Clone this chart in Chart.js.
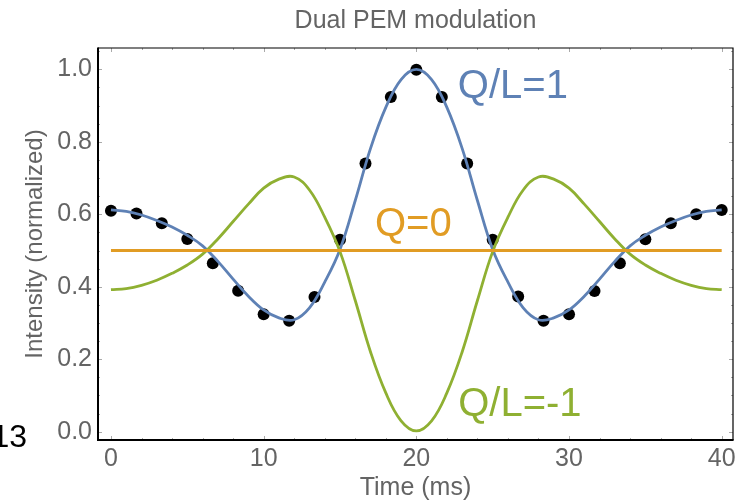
<!DOCTYPE html>
<html>
<head>
<meta charset="utf-8">
<script src="https://cdn.jsdelivr.net/npm/chart.js@4"></script>
<style>
  body { margin: 0; background: #fff; }
  canvas { display: block; }
</style>
</head>
<body>
<canvas id="chart" width="740" height="504"></canvas>
<script>
// curve samples (time in ms)
let curveTimes = [0,1,2,3,4,5,6,7,8,9,10,11,12,13,14,15,16,17,18,19,20,
  21,22,23,24,25,26,27,28,29,30,31,32,33,34,35,36,37,38,39,40];
let qlPlus = [0.612,0.608,0.598,0.583,0.565,0.542,0.513,0.470,0.421,0.374,0.336,0.314,0.309,0.342,0.413,0.503,0.638,0.782,0.895,0.972,1.000,
  0.972,0.895,0.782,0.638,0.503,0.413,0.342,0.309,0.314,0.336,0.374,0.421,0.470,0.513,0.542,0.565,0.583,0.598,0.608,0.612];
let qlMinus = [0.392,0.395,0.404,0.418,0.437,0.460,0.490,0.532,0.580,0.628,0.672,0.697,0.703,0.667,0.592,0.497,0.362,0.220,0.107,0.030,0.002,
  0.030,0.107,0.220,0.362,0.497,0.592,0.667,0.703,0.697,0.672,0.628,0.580,0.532,0.490,0.460,0.437,0.418,0.404,0.395,0.392];
let qZeroTimes = [0, 40];
let qZero = [0.5, 0.5];

// measured points
let dotTimes = [0,1.67,3.33,5,6.67,8.33,10,11.67,13.33,15,16.67,18.33,20,
  21.67,23.33,25,26.67,28.33,30,31.67,33.33,35,36.67,38.33,40];
let dotValues = [0.610,0.602,0.575,0.532,0.465,0.389,0.324,0.306,0.372,0.530,0.740,0.924,0.999,
  0.924,0.740,0.530,0.373,0.306,0.324,0.388,0.465,0.531,0.575,0.600,0.612];

let xTicks = [0, 10, 20, 30, 40];
let yTicks = [0, 0.2, 0.4, 0.6, 0.8, 1.0];

let curveLabels = ["Q/L=1", "Q=0", "Q/L=-1"];
let labelX = [22.72, 17.29, 22.74];
let labelY = [0.951, 0.570, 0.075];

const BLUE = "#5e81b5";
const ORANGE = "#e19c24";
const GREEN = "#8fb032";
const GRAY = "#646464";
const FONT = "'Liberation Sans', Arial, Helvetica, sans-serif";

function toPoints(xs, ys) {
  return xs.map((x, i) => ({ x: x, y: ys[i] }));
}

// frame, inward ticks, title and curve labels
const framePlugin = {
  id: "frame",
  afterDraw(chart) {
    let ctx = chart.ctx;
    let a = chart.chartArea;
    let xs = chart.scales.x;
    let ys = chart.scales.y;
    ctx.save();

    ctx.strokeStyle = "#aaa";
    ctx.lineWidth = 1;
    ctx.beginPath();
    for (let v = 0; v <= 40; v += 2) {
      let px = Math.round(xs.getPixelForValue(v)) + 0.5;
      let len = v % 10 === 0 ? 4 : 2;
      ctx.moveTo(px, a.bottom); ctx.lineTo(px, a.bottom - len);
      ctx.moveTo(px, a.top); ctx.lineTo(px, a.top + len);
    }
    for (let k = 0; k <= 21; k++) {
      let v = k * 0.05;
      let py = Math.round(ys.getPixelForValue(v)) + 0.5;
      let len = k % 4 === 0 ? 4 : 2;
      ctx.moveTo(a.left, py); ctx.lineTo(a.left + len, py);
      ctx.moveTo(a.right, py); ctx.lineTo(a.right - len, py);
    }
    ctx.stroke();

    ctx.strokeStyle = "#000";
    ctx.lineWidth = 1.2;
    ctx.beginPath();
    ctx.moveTo(a.left, a.top); ctx.lineTo(a.right, a.top); ctx.lineTo(a.right, a.bottom);
    ctx.stroke();
    ctx.lineWidth = 2;
    ctx.beginPath();
    ctx.moveTo(a.left, a.top - 0.6); ctx.lineTo(a.left, a.bottom); ctx.lineTo(a.right + 0.6, a.bottom);
    ctx.stroke();

    ctx.fillStyle = GRAY;
    ctx.font = "25px " + FONT;
    ctx.textAlign = "center";
    ctx.textBaseline = "middle";
    ctx.fillText("Dual PEM modulation", (a.left + a.right) / 2, 21);

    let colors = [BLUE, ORANGE, GREEN];
    ctx.font = "40px " + FONT;
    ctx.textAlign = "left";
    curveLabels.forEach((txt, i) => {
      ctx.fillStyle = colors[i];
      ctx.fillText(txt, xs.getPixelForValue(labelX[i]), ys.getPixelForValue(labelY[i]));
    });

    ctx.fillStyle = "#000";
    ctx.font = "32px " + FONT;
    ctx.textAlign = "right";
    ctx.fillText("13", 27, 438);
    ctx.restore();
  }
};

let chart = new Chart(document.getElementById("chart"), {
  type: "scatter",
  data: {
    datasets: [
      {
        data: toPoints(qZeroTimes, qZero),
        showLine: true, borderColor: ORANGE, borderWidth: 2.8,
        pointRadius: 0
      },
      {
        data: toPoints(curveTimes, qlMinus),
        showLine: true, borderColor: GREEN, borderWidth: 2.8,
        tension: 0.4, pointRadius: 0
      },
      {
        data: toPoints(curveTimes, qlPlus),
        showLine: true, borderColor: BLUE, borderWidth: 2.8,
        tension: 0.4, pointRadius: 0
      },
      {
        data: toPoints(dotTimes, dotValues),
        showLine: false, pointRadius: 6, pointBorderWidth: 0,
        pointBackgroundColor: "#000", pointBorderColor: "#000"
      }
    ]
  },
  options: {
    responsive: false,
    animation: false,
    layout: { padding: { top: 48, right: 7, left: 0, bottom: 0 } },
    plugins: {
      legend: { display: false },
      tooltip: { enabled: false }
    },
    scales: {
      x: {
        type: "linear",
        min: -0.85,
        max: 40.74,
        grid: { display: false, drawTicks: false },
        border: { display: false },
        afterBuildTicks(s) { s.ticks = xTicks.map(v => ({ value: v })); },
        ticks: {
          color: GRAY, font: { family: FONT, size: 25 }, padding: 4,
          maxRotation: 0, autoSkip: false
        },
        title: {
          display: true, text: "Time (ms)", color: GRAY,
          font: { family: FONT, size: 25 }, padding: { top: 0, bottom: 1 }
        },
        afterFit(s) { s.height = 64; }
      },
      y: {
        type: "linear",
        min: -0.023,
        max: 1.059,
        grid: { display: false, drawTicks: false },
        border: { display: false },
        afterBuildTicks(s) { s.ticks = yTicks.map(v => ({ value: v })); },
        ticks: {
          color: GRAY, font: { family: FONT, size: 25 }, padding: 6,
          autoSkip: false,
          callback: v => v.toFixed(1)
        },
        title: {
          display: true, text: "Intensity (normalized)", color: GRAY,
          font: { family: FONT, size: 24 }, padding: { top: 21, bottom: 0 }
        },
        afterFit(s) { s.width = 98; }
      }
    }
  },
  plugins: [framePlugin]
});
</script>
</body>
</html>
